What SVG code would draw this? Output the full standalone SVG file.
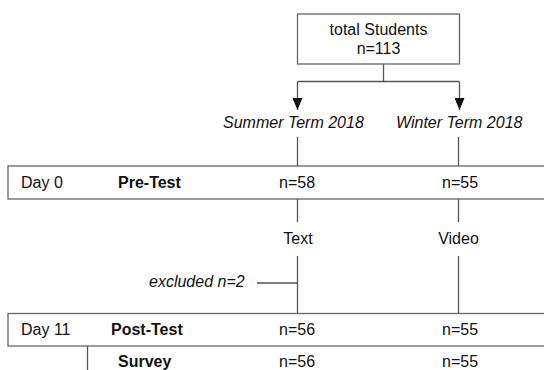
<svg xmlns="http://www.w3.org/2000/svg" width="544" height="370" viewBox="0 0 544 370">
<style>
text{font-family:"Liberation Sans",Arial,sans-serif;font-size:16px;fill:#111}
.b{font-weight:bold}
.i{font-style:italic}
.m{text-anchor:middle}
.box{fill:#fff;stroke:#666;stroke-width:1.3}
.ln{stroke:#555;stroke-width:1.3;fill:none}
</style>
<defs>
<marker id="ah" viewBox="0 0 12 10" refX="12" refY="5" markerWidth="12" markerHeight="10" markerUnits="userSpaceOnUse" orient="auto">
<path d="M0,0 L12,5 L0,10 z" fill="#111"/>
</marker>
</defs>
<g id="connectors">
<path class="ln" d="M383.5,64 V81.5 M297.5,81.5 H459.5"/>
<line class="ln" x1="297.5" y1="81.5" x2="297.5" y2="110" marker-end="url(#ah)"/>
<line class="ln" x1="459.5" y1="81.5" x2="459.5" y2="110" marker-end="url(#ah)"/>
<path class="ln" d="M297.5,137 V166 M458.5,137 V166"/>
<path class="ln" d="M297.5,199 V222 M458.5,199 V222"/>
<path class="ln" d="M297.5,256 V313.5 M458.5,256 V313.5"/>
<path class="ln" d="M257,283 H297.5"/>
<path class="ln" d="M87.5,346 V370"/>
</g>
<g id="total">
<rect class="box" x="297.5" y="14" width="162" height="50"/>
<text class="m" x="378.5" y="35">total Students</text>
<text class="m" x="378.5" y="54">n=113</text>
</g>
<g id="summer">
<text class="i" x="223" y="127.5">Summer Term 2018</text>
</g>
<g id="winter">
<text class="i" x="396" y="127.5">Winter Term 2018</text>
</g>
<g id="pretest">
<rect class="box" x="8" y="166" width="560" height="33"/>
<text x="21" y="188">Day 0</text>
<text class="b" x="118" y="188">Pre-Test</text>
<text x="279" y="188">n=58</text>
<text x="442" y="188">n=55</text>
</g>
<g id="text-cond">
<text class="m" x="298" y="244">Text</text>
</g>
<g id="video-cond">
<text class="m" x="458.5" y="244">Video</text>
</g>
<g id="excluded">
<text class="i" x="149" y="287">excluded n=2</text>
</g>
<g id="posttest">
<rect class="box" x="8" y="313.5" width="560" height="32.5"/>
<text x="21" y="335">Day 11</text>
<text class="b" x="111" y="335">Post-Test</text>
<text x="279" y="335">n=56</text>
<text x="442" y="335">n=55</text>
</g>
<g id="survey">
<text class="b" x="118" y="367">Survey</text>
<text x="279" y="367">n=56</text>
<text x="442" y="367">n=55</text>
</g>
</svg>
